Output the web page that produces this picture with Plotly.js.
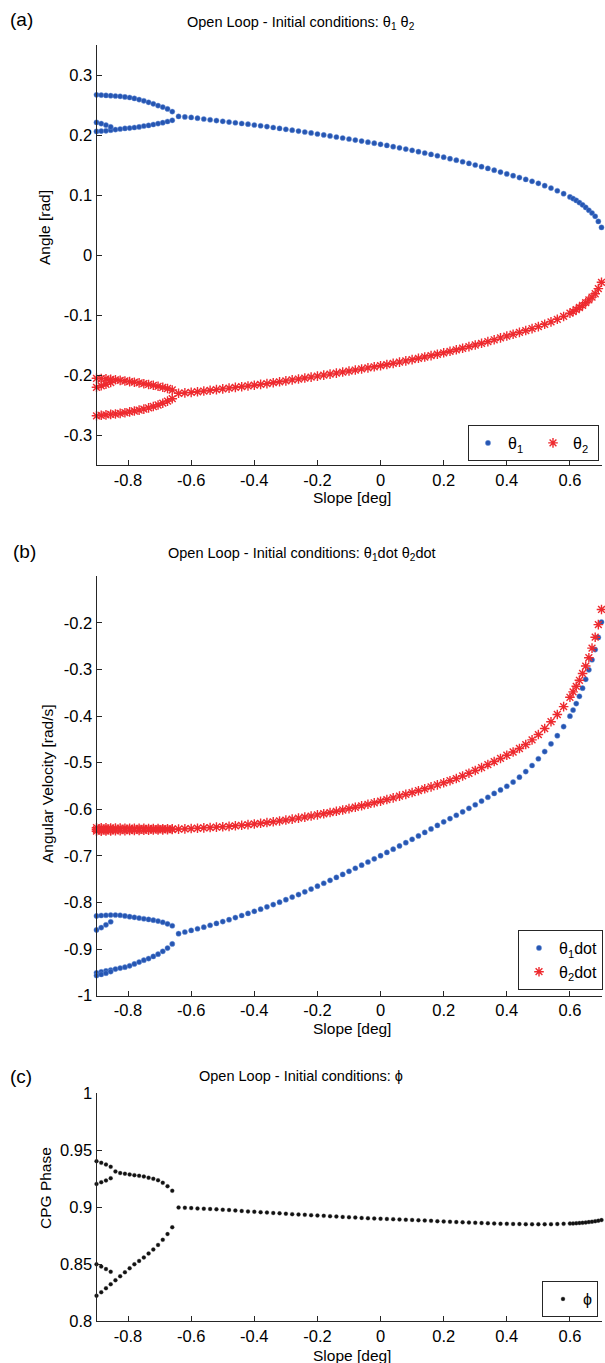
<!DOCTYPE html>
<html><head><meta charset="utf-8">
<script src="https://cdn.plot.ly/plotly-3.0.1.min.js"></script>
<style>html,body{margin:0;padding:0;background:#fff}#chart{width:605px;height:1363px}</style>
</head><body><div id="chart"></div>
<script>
// ---------- slope grids ----------
var xLeft = [-0.9,-0.885,-0.87,-0.855,-0.84,-0.825,-0.81,-0.795,-0.78,-0.765,-0.75,-0.735,-0.72,-0.705,-0.69,-0.675,-0.66];
var xSplit = [-0.9,-0.885,-0.87,-0.855];
var xRight = [-0.64,-0.62,-0.60,-0.58,-0.56,-0.54,-0.52,-0.50,-0.48,-0.46,-0.44,-0.42,-0.40,-0.38,-0.36,-0.34,-0.32,-0.30,-0.28,-0.26,-0.24,-0.22,-0.20,-0.18,-0.16,-0.14,-0.12,-0.10,-0.08,-0.06,-0.04,-0.02,0,0.02,0.04,0.06,0.08,0.10,0.12,0.14,0.16,0.18,0.20,0.22,0.24,0.26,0.28,0.30,0.32,0.34,0.36,0.38,0.40,0.42,0.44,0.46,0.48,0.50,0.52,0.54,0.56,0.58,0.60,0.61,0.62,0.63,0.64,0.65,0.66,0.67,0.68,0.69,0.70];

// ---------- (a) angles ----------
var th1Upper = [0.2670,0.2665,0.2660,0.2655,0.2650,0.2645,0.2635,0.2625,0.2610,0.2590,0.2570,0.2545,0.2520,0.2490,0.2465,0.2435,0.2390];
var th1Lower = [0.2060,0.2065,0.2070,0.2080,0.2090,0.2100,0.2110,0.2115,0.2125,0.2135,0.2150,0.2160,0.2175,0.2190,0.2205,0.2225,0.2245];
var th1Split = [0.2210,0.2190,0.2165,0.2135];
var th1Main = [0.2310,0.2301,0.2293,0.2280,0.2267,0.2254,0.2241,0.2228,0.2216,0.2204,
  0.2192,0.2180,0.2167,0.2154,0.2140,0.2125,0.2110,0.2095,0.2080,0.2065,
  0.2050,0.2034,0.2017,0.2001,0.1984,0.1967,0.1950,0.1933,0.1916,0.1899,
  0.1881,0.1863,0.1845,0.1826,0.1806,0.1786,0.1765,0.1744,0.1722,0.1700,
  0.1677,0.1654,0.1630,0.1605,0.1580,0.1554,0.1527,0.1500,0.1472,0.1443,
  0.1413,0.1382,0.1352,0.1322,0.1291,0.1260,0.1228,0.1194,0.1156,0.1115,
  0.1071,0.1022,0.0968,0.0940,0.0910,0.0874,0.0836,0.0793,0.0746,0.0700,
  0.0645,0.0560,0.0460];
var th2Upper = [-0.2055,-0.2060,-0.2065,-0.2072,-0.2080,-0.2090,-0.2100,-0.2110,-0.2120,-0.2132,-0.2145,-0.2158,-0.2172,-0.2188,-0.2205,-0.2225,-0.2250];
var th2Lower = [-0.2680,-0.2672,-0.2665,-0.2657,-0.2650,-0.2640,-0.2628,-0.2615,-0.2600,-0.2585,-0.2568,-0.2548,-0.2525,-0.2500,-0.2470,-0.2435,-0.2395];
var th2Split = [-0.2205,-0.2180,-0.2155,-0.2125];
var th2Main = [-0.2305,-0.2298,-0.2290,-0.2279,-0.2267,-0.2255,-0.2243,-0.2231,-0.2219,-0.2207,
  -0.2195,-0.2183,-0.2170,-0.2157,-0.2143,-0.2128,-0.2113,-0.2098,-0.2082,-0.2067,
  -0.2051,-0.2035,-0.2018,-0.2002,-0.1985,-0.1968,-0.1951,-0.1934,-0.1917,-0.1899,
  -0.1881,-0.1863,-0.1845,-0.1826,-0.1806,-0.1786,-0.1765,-0.1744,-0.1722,-0.1700,
  -0.1677,-0.1654,-0.1630,-0.1605,-0.1580,-0.1554,-0.1527,-0.1500,-0.1472,-0.1443,
  -0.1413,-0.1382,-0.1351,-0.1321,-0.1290,-0.1259,-0.1227,-0.1193,-0.1155,-0.1114,
  -0.1072,-0.1024,-0.0970,-0.0942,-0.0912,-0.0875,-0.0838,-0.0795,-0.0748,-0.0702,
  -0.0646,-0.0560,-0.0455];

// ---------- (b) angular velocities ----------
var w1Upper = [-0.829,-0.828,-0.8275,-0.827,-0.827,-0.8275,-0.829,-0.8305,-0.832,-0.8335,-0.835,-0.8365,-0.838,-0.840,-0.8425,-0.846,-0.850];
var w1Lower = [-0.951,-0.949,-0.947,-0.945,-0.943,-0.941,-0.939,-0.936,-0.932,-0.928,-0.924,-0.9205,-0.916,-0.911,-0.905,-0.898,-0.889];
var w1SplitU = [-0.859,-0.854,-0.848,-0.8415];
var w1SplitL = [-0.957,-0.9545,-0.952,-0.9485];
var w1Main = [-0.867,-0.8635,-0.860,-0.8565,-0.853,-0.849,-0.845,-0.841,-0.837,-0.8325,
  -0.828,-0.8235,-0.819,-0.8145,-0.8095,-0.8045,-0.7995,-0.794,-0.7885,-0.783,
  -0.7772,-0.7712,-0.765,-0.7588,-0.7526,-0.7462,-0.7398,-0.7332,-0.7266,-0.7199,
  -0.7132,-0.7064,-0.6996,-0.6927,-0.6857,-0.6787,-0.6716,-0.6644,-0.6571,-0.6497,
  -0.6422,-0.6346,-0.627,-0.620,-0.6128,-0.6055,-0.598,-0.5903,-0.5824,-0.5742,
  -0.5660,-0.5585,-0.5505,-0.5415,-0.5310,-0.5190,-0.5060,-0.4915,-0.4760,-0.4595,
  -0.4420,-0.4225,-0.4000,-0.3870,-0.3730,-0.3575,-0.3400,-0.3210,-0.3005,-0.2790,
  -0.2570,-0.2310,-0.1980];
var w2Upper = [-0.6395,-0.6398,-0.6400,-0.6402,-0.6403,-0.6405,-0.6406,-0.6407,-0.6408,-0.6409,-0.6410,-0.6412,-0.6413,-0.6415,-0.6417,-0.6419,-0.6421];
var w2Lower = [-0.6470,-0.6468,-0.6466,-0.6464,-0.6462,-0.6460,-0.6458,-0.6456,-0.6454,-0.6452,-0.6450,-0.6448,-0.6446,-0.6444,-0.6441,-0.6438,-0.6434];
var w2Split = [-0.6435,-0.6437,-0.6439,-0.6441];
var w2Main = [-0.6425,-0.6420,-0.6414,-0.6407,-0.6400,-0.6392,-0.6384,-0.6376,-0.6366,-0.6355,
  -0.6343,-0.6330,-0.6316,-0.6301,-0.6285,-0.6268,-0.6250,-0.6231,-0.6211,-0.6190,
  -0.6168,-0.6145,-0.6121,-0.6096,-0.6070,-0.6043,-0.6015,-0.5986,-0.5956,-0.5925,
  -0.5893,-0.5860,-0.5826,-0.5791,-0.5755,-0.5718,-0.5680,-0.5641,-0.5601,-0.5560,
  -0.5518,-0.5475,-0.5431,-0.5386,-0.5340,-0.5284,-0.5226,-0.5166,-0.5104,-0.5040,
  -0.4975,-0.4908,-0.4840,-0.4770,-0.4695,-0.4610,-0.4510,-0.4395,-0.4265,-0.4120,
  -0.3965,-0.3795,-0.3595,-0.3480,-0.3360,-0.3230,-0.3085,-0.2925,-0.2745,-0.2540,
  -0.2305,-0.2035,-0.1710];

// ---------- (c) CPG phase ----------
var phUpper = [0.9405,0.9390,0.9375,0.9355,0.9315,0.9300,0.9295,0.9288,0.9282,0.9276,0.9270,0.9260,0.9250,0.9237,0.9215,0.9185,0.9145];
var phLower = [0.8225,0.8255,0.8290,0.8325,0.8360,0.8395,0.8430,0.8465,0.8500,0.8530,0.8560,0.8595,0.8630,0.8670,0.8715,0.8765,0.8825];
var phSplitU = [0.9205,0.9220,0.9235,0.9255];
var phSplitL = [0.8500,0.8480,0.8458,0.8435];
var phMain = [0.8998,0.8996,0.8993,0.8990,0.8988,0.8985,0.8982,0.8979,0.8976,0.8972,
  0.8968,0.8964,0.8961,0.8957,0.8954,0.8950,0.8947,0.8944,0.8940,0.8937,
  0.8934,0.8931,0.8928,0.8925,0.8922,0.8919,0.8916,0.8913,0.8910,0.8907,
  0.8904,0.8902,0.8900,0.8898,0.8896,0.8894,0.8891,0.8889,0.8886,0.8884,
  0.8881,0.8878,0.8876,0.8873,0.8870,0.8868,0.8866,0.8864,0.8862,0.8860,
  0.8858,0.8856,0.8855,0.8854,0.8853,0.8852,0.8851,0.8851,0.8851,0.8852,
  0.8853,0.8855,0.8857,0.8858,0.8860,0.8862,0.8864,0.8867,0.8870,0.8874,
  0.8878,0.8883,0.8888];

// ---------- ticks ----------
var xTickVals = [-0.8,-0.6,-0.4,-0.2,0,0.2,0.4,0.6];
var xTickText = ['-0.8','-0.6','-0.4','-0.2','0','0.2','0.4','0.6'];
var aTickVals = [-0.3,-0.2,-0.1,0,0.1,0.2,0.3];
var aTickText = ['-0.3','-0.2','-0.1','0','0.1','0.2','0.3'];
var bTickVals = [-1,-0.9,-0.8,-0.7,-0.6,-0.5,-0.4,-0.3,-0.2];
var bTickText = ['-1','-0.9','-0.8','-0.7','-0.6','-0.5','-0.4','-0.3','-0.2'];
var cTickVals = [0.8,0.85,0.9,0.95,1];
var cTickText = ['0.8','0.85','0.9','0.95','1'];

// ---------- styles ----------
var BLUE = '#2656b2', RED = '#ee2a2f', BLACK = '#111111', AX = '#262626';
var dotBlue = {symbol:'circle', size:5.2, color:BLUE, line:{width:0.8, color:'rgba(110,150,220,0.55)'}};
var starRed = {symbol:'asterisk-open', size:8, color:RED, line:{width:1.4, color:RED}};
var dotBlack = {symbol:'circle', size:4, color:BLACK, line:{width:0.6, color:'rgba(80,80,80,0.5)'}};

function series(xs, ys, xa, ya, marker, name, legend, show) {
  return {type:'scatter', mode:'markers', x:xs, y:ys, xaxis:xa, yaxis:ya, marker:marker,
          name:name, legend:legend, legendgroup:legend+name, showlegend:show, cliponaxis:false, hoverinfo:'x+y'};
}

var t1 = 'θ<sub>1</sub>', t2 = 'θ<sub>2</sub>';
var t1d = 'θ<sub>1</sub>dot', t2d = 'θ<sub>2</sub>dot';
var data = [
  series(xRight, th1Main, 'x', 'y', dotBlue, t1, 'legend', true),
  series(xLeft, th1Upper, 'x', 'y', dotBlue, t1, 'legend', false),
  series(xLeft, th1Lower, 'x', 'y', dotBlue, t1, 'legend', false),
  series(xSplit, th1Split, 'x', 'y', dotBlue, t1, 'legend', false),
  series(xRight, th2Main, 'x', 'y', starRed, t2, 'legend', true),
  series(xLeft, th2Upper, 'x', 'y', starRed, t2, 'legend', false),
  series(xLeft, th2Lower, 'x', 'y', starRed, t2, 'legend', false),
  series(xSplit, th2Split, 'x', 'y', starRed, t2, 'legend', false),

  series(xRight, w1Main, 'x2', 'y2', dotBlue, t1d, 'legend2', true),
  series(xLeft, w1Upper, 'x2', 'y2', dotBlue, t1d, 'legend2', false),
  series(xLeft, w1Lower, 'x2', 'y2', dotBlue, t1d, 'legend2', false),
  series(xSplit, w1SplitU, 'x2', 'y2', dotBlue, t1d, 'legend2', false),
  series(xSplit, w1SplitL, 'x2', 'y2', dotBlue, t1d, 'legend2', false),
  series(xRight, w2Main, 'x2', 'y2', starRed, t2d, 'legend2', true),
  series(xLeft, w2Upper, 'x2', 'y2', starRed, t2d, 'legend2', false),
  series(xLeft, w2Lower, 'x2', 'y2', starRed, t2d, 'legend2', false),
  series(xSplit, w2Split, 'x2', 'y2', starRed, t2d, 'legend2', false),

  series(xRight, phMain, 'x3', 'y3', dotBlack, 'ϕ', 'legend3', true),
  series(xLeft, phUpper, 'x3', 'y3', dotBlack, 'ϕ', 'legend3', false),
  series(xLeft, phLower, 'x3', 'y3', dotBlack, 'ϕ', 'legend3', false),
  series(xSplit, phSplitU, 'x3', 'y3', dotBlack, 'ϕ', 'legend3', false),
  series(xSplit, phSplitL, 'x3', 'y3', dotBlack, 'ϕ', 'legend3', false)
];

var W = 605, H = 1363;
function px(v){ return v / W; }
function py(v){ return 1 - v / H; }
var xDom = [px(96.5), px(601.5)];

function axis(extra) {
  var a = {showline:true, linecolor:AX, linewidth:1, ticks:'inside', ticklen:5, tickwidth:1, tickcolor:AX,
           showgrid:false, zeroline:false, mirror:false, tickmode:'array',
           tickfont:{size:16.5, color:'#000'}, fixedrange:true};
  for (var k in extra) a[k] = extra[k];
  return a;
}

var legendBase = {bordercolor:AX, borderwidth:1, bgcolor:'#ffffff', font:{size:16, color:'#000'},
                  xref:'paper', yref:'paper', itemclick:false, itemdoubleclick:false};
function leg(extra){ var o = {}; for (var k in legendBase) o[k] = legendBase[k]; for (var j in extra) o[j] = extra[j]; return o; }

function ann(text, x, y, size, extra) {
  var a = {text:text, x:px(x), y:py(y), xref:'paper', yref:'paper', showarrow:false,
           xanchor:'center', yanchor:'middle', font:{size:size, color:'#000'}};
  for (var k in extra) a[k] = extra[k];
  return a;
}

var layout = {
  width:W, height:H, margin:{l:0, r:0, t:0, b:0},
  paper_bgcolor:'#ffffff', plot_bgcolor:'#ffffff',
  font:{family:'"Liberation Sans", Arial, Helvetica, sans-serif', color:'#000'},
  xaxis: axis({domain:xDom, range:[-0.9,0.7], anchor:'y', tickvals:xTickVals, ticktext:xTickText}),
  yaxis: axis({domain:[py(465), py(45)], range:[-0.35,0.35], anchor:'x', tickvals:aTickVals, ticktext:aTickText}),
  xaxis2: axis({domain:xDom, range:[-0.9,0.7], anchor:'y2', tickvals:xTickVals, ticktext:xTickText}),
  yaxis2: axis({domain:[py(995.6), py(576.4)], range:[-1,-0.1], anchor:'x2', tickvals:bTickVals, ticktext:bTickText}),
  xaxis3: axis({domain:xDom, range:[-0.9,0.7], anchor:'y3', tickvals:xTickVals, ticktext:xTickText}),
  yaxis3: axis({domain:[py(1321.3), py(1093.3)], range:[0.8,1], anchor:'x3', tickvals:cTickVals, ticktext:cTickText}),
  legend: leg({orientation:'h', x:px(599), xanchor:'right', y:py(461), yanchor:'bottom', entrywidth:20, entrywidthmode:'pixels'}),
  legend2: leg({orientation:'v', x:px(603), xanchor:'right', y:py(990), yanchor:'bottom', tracegroupgap:0}),
  legend3: leg({orientation:'v', x:px(598), xanchor:'right', y:py(1317), yanchor:'bottom'}),
  showlegend:true,
  annotations: [
    ann('(a)', 21, 20, 19),
    ann('(b)', 24, 551, 19),
    ann('(c)', 21, 1076, 19),
    ann('Open Loop - Initial conditions: θ<sub>1</sub> θ<sub>2</sub>', 301, 23, 14.5),
    ann('Open Loop - Initial conditions: θ<sub>1</sub>dot θ<sub>2</sub>dot', 302, 554, 14.5),
    ann('Open Loop - Initial conditions: ϕ', 301, 1076, 14.5),
    ann('Slope [deg]', 352, 497, 15.5),
    ann('Slope [deg]', 352, 1028, 15.5),
    ann('Slope [deg]', 352, 1355, 15.5),
    ann('Angle [rad]', 45, 228, 15.5, {textangle:-90}),
    ann('Angular Velocity [rad/s]', 47, 784, 15.5, {textangle:-90}),
    ann('CPG Phase', 45, 1188, 15.5, {textangle:-90})
  ]
};

Plotly.newPlot('chart', data, layout, {staticPlot:true, displayModeBar:false});
</script>
</body></html>
